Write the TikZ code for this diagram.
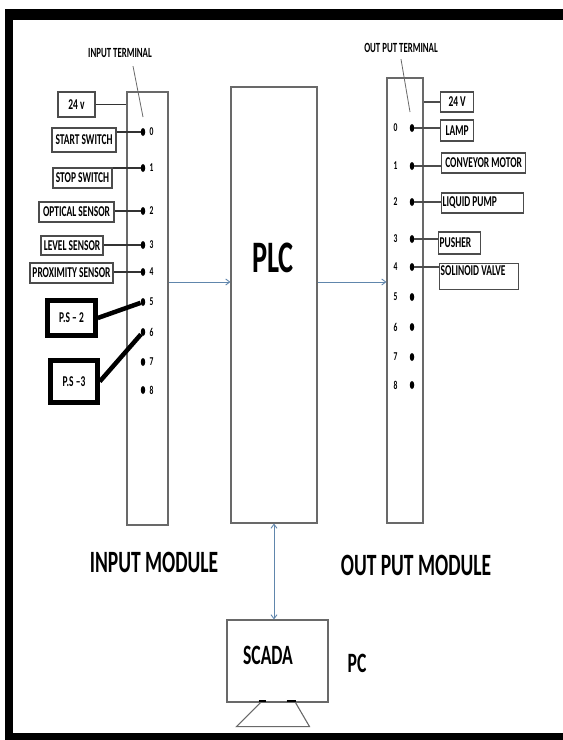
\documentclass[tikz,border=0pt]{standalone}
\usepackage{fontspec}
\setmainfont{Carlito}[FakeStretch=0.63]
\usetikzlibrary{shapes.geometric,arrows.meta}
\definecolor{flowblue}{RGB}{96,134,172}
\definecolor{boxgray}{RGB}{105,105,105}
\newcommand\fsz[1]{\fontsize{#1}{#1}\selectfont\bfseries}

\begin{document}
\begin{tikzpicture}[x=1pt, y=-1pt,
	module/.style={draw=boxgray, line width=1.1pt, inner sep=0pt},
	device/.style={draw=black!70, line width=1.3pt, inner sep=1pt, minimum height=20pt, font=\fsz{15}},
	psbox/.style={draw=black, line width=4.5pt, inner sep=1pt, font=\fsz{15}},
	term/.style={ellipse, fill=black, minimum width=4.5pt, minimum height=8pt, inner sep=0pt},
	num/.style={font=\fsz{12}, inner sep=1pt},
	wire/.style={draw=black!80, line width=1.4pt},
	flow/.style={draw=flowblue, line width=0.9pt, -{Straight Barb[length=4pt,width=6pt]}},
	pointer/.style={draw=boxgray, line width=0.8pt}]
	\useasboundingbox (0,0) rectangle (563,740);
	% black frame
	\fill (5,9) rectangle (563,20);
	\fill (5,9) rectangle (13,740);
	\fill (5,733) rectangle (563,740);

	% modules
	\node[module, minimum width=41pt, minimum height=433pt] (inmod) at (147.5,308.5) {};
	\node[module, minimum width=86pt, minimum height=436pt] (plc) at (274,305) {};
	\node[module, minimum width=36pt, minimum height=445pt] (outmod) at (405,300.5) {};
	\node[font=\fsz{45}] (plctxt) at (273,258) {PLC};
	\node[font=\fsz{31}] (inlabel) at (154,562) {INPUT MODULE};
	\node[font=\fsz{31}] (outlabel) at (416,565) {OUT PUT MODULE};

	% terminals
	\foreach \n/\yy in {0/132,1/168,2/211,3/245,4/272,5/302,6/332,7/362,8/390}
		\node[term, label={[num, label distance=3pt]right:\n}] (i\n) at (143,\yy) {};
	\foreach \n/\yy in {0/128,1/166,2/202,3/239,4/267,5/297,6/327,7/357,8/385}
		\node[term, label={[num, label distance=11pt]left:\n}] (o\n) at (412,\yy) {};

	\node[font=\fsz{14}] (interm) at (120,53) {INPUT TERMINAL};
	\node[font=\fsz{14}] (outterm) at (401,48) {OUT PUT TERMINAL};
	\coordinate (intip) at (143,117);
	\coordinate (outtip) at (410,112);
	\draw[pointer] ([xshift=13pt,yshift=-5pt]interm.south) -- (intip);
	\draw[pointer] ([yshift=-3pt]outterm.south) -- (outtip);

	% input side
	\node[device, minimum width=37pt, minimum height=25pt] (in24) at (76.5,104.5) {24 v};
	\node[device, minimum width=64pt, minimum height=24pt] (startsw) at (84,140) {START SWITCH};
	\node[device, minimum width=59pt] (stopsw) at (82.5,178) {STOP SWITCH};
	\node[device, minimum width=75pt] (optic) at (76.5,212) {OPTICAL SENSOR};
	\node[device, minimum width=62pt, minimum height=19pt] (level) at (72,245.5) {LEVEL SENSOR};
	\node[device, minimum width=83pt] (prox) at (71.5,273) {PROXIMITY SENSOR};
	\node[psbox, minimum width=48pt, minimum height=35pt] (ps2) at (71.5,318) {P.S -- 2};
	\node[psbox, minimum width=47pt, minimum height=42pt] (ps3) at (74,381.5) {P.S --3};

	\draw[wire] (in24.east) -- (in24.east -| inmod.west);
	\draw[wire] (i0) -- (i0 -| startsw.east);
	\draw[wire] (i1) -- (i1 -| stopsw.east);
	\draw[wire] (i2) -- (i2 -| optic.east);
	\draw[wire] (i3) -- (i3 -| level.east);
	\draw[wire] (i4) -- (i4 -| prox.east);
	\draw[line width=4.5pt] (ps2.east) -- (i5);
	\draw[line width=4.5pt] (ps3.east) -- (i6);

	% output side
	\node[device, anchor=west, minimum width=33pt] (out24) at (440,102) {24 V};
	\node[device, anchor=west, minimum width=33pt, minimum height=21pt] (lamp) at (440,130.5) {LAMP};
	\node[device, anchor=west, minimum width=84pt] (motor) at (441,163) {CONVEYOR MOTOR};
	\node[device, anchor=west, text width=80pt, align=flush left] (pump) at (441,203) {LIQUID PUMP};
	\node[device, anchor=west, text width=40pt, align=flush left, minimum height=22pt] (pusher) at (438,243) {PUSHER};
	\node[device, anchor=north west, text width=77pt, align=flush left, text height=11pt, text depth=13pt] (valve) at (439,263) {SOLINOID VALVE};

	\draw[wire, draw=black!70] (out24.west) -- (out24.west -| outmod.east);
	\draw[wire, draw=black!70] (o0) -- (o0 -| lamp.west);
	\draw[wire, draw=black!70] (o1) -- (o1 -| motor.west);
	\draw[wire, draw=black!70] (o2) -- (o2 -| pump.west);
	\draw[wire, draw=black!70] (o3) -- (o3 -| pusher.west);
	\draw[wire, draw=black!70] (o4) -- (o4 -| valve.west);

	% signal flow
	\coordinate (bus) at (0,282);
	\draw[flow] (inmod.east |- bus) -- (plc.west |- bus);
	\draw[flow] (plc.east |- bus) -- (outmod.west |- bus);

	% pc
	\node[module, minimum width=101pt, minimum height=82pt] (scada) at (277.5,661) {};
	\node[font=\fsz{28}] (scadatxt) at (268,655) {SCADA};
	\node[font=\fsz{28}] (pc) at (357,663) {PC};
	\draw[flow, {Straight Barb[length=4pt,width=6pt]}-{Straight Barb[length=4pt,width=6pt]}] (plc.south) -- (plc.south |- scada.north);
	\draw[module] (scada.south) ++(-17,0) -- ++(-24,24) -- ++(73,0) -- ++(-14,-24);
	\draw[line width=2pt] (scada.south) ++(-19,-1.5) -- ++(7,0) ++(21,0) -- ++(9,0);
\end{tikzpicture}
\end{document}
